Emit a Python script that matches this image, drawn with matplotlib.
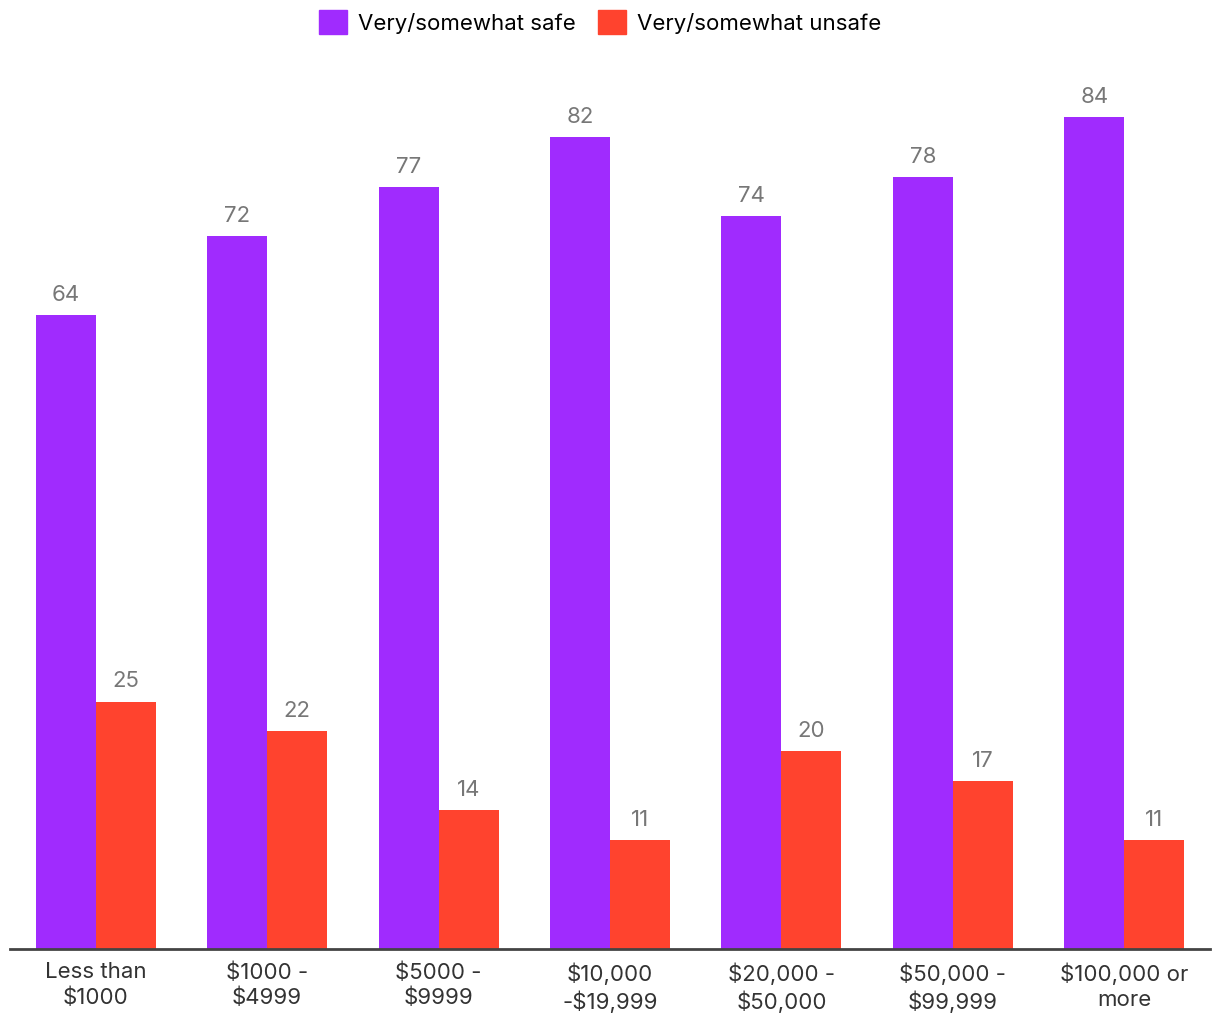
import numpy as np
import matplotlib
matplotlib.use("Agg")
import matplotlib.pyplot as plt
from matplotlib.patches import Patch

categories = ["Less than\n$1000", "$1000 -\n$4999", "$5000 -\n$9999", "$10,000\n-$19,999",
              "$20,000 -\n$50,000", "$50,000 -\n$99,999", "$100,000 or\nmore"]
safe = [64, 72, 77, 82, 74, 78, 84]
unsafe = [25, 22, 14, 11, 20, 17, 11]
series_names = ["Very/somewhat safe", "Very/somewhat unsafe"]

PURPLE = "#A02BFE"
RED = "#FF432E"

plt.rcParams['font.family'] = ['Inter', 'DejaVu Sans']

fig = plt.figure(figsize=(12.2, 10.2), dpi=100)
ax = fig.add_axes([10 / 1220, 70 / 1020, 1200 / 1220, 890 / 1020])

x = np.arange(len(categories))
w = 0.35
b1 = ax.bar(x - w / 2, safe, w, color=PURPLE)
b2 = ax.bar(x + w / 2, unsafe, w, color=RED)

for bars, vals in ((b1, safe), (b2, unsafe)):
    for rect, v in zip(bars, vals):
        ax.annotate(str(v), (rect.get_x() + rect.get_width() / 2, v),
                    xytext=(0, 8), textcoords="offset points",
                    ha="center", va="bottom", fontsize=16, color="#777777")

ax.set_xlim(-0.5, len(categories) - 0.5)
ax.set_ylim(0, 89.9)
ax.set_xticks(x)
ax.set_xticklabels(categories, fontsize=16, color="#333333", linespacing=1.3)
ax.tick_params(axis="x", length=0, pad=9)
ax.set_yticks([])
for s in ("top", "right", "left"):
    ax.spines[s].set_visible(False)
ax.spines["bottom"].set_color("#444444")
ax.spines["bottom"].set_linewidth(2)

handles = [Patch(color=PURPLE), Patch(color=RED)]
fig.legend(handles, series_names, loc="center", bbox_to_anchor=(0.492, 1 - 23 / 1020),
           ncol=2, frameon=False, fontsize=16, handlelength=1.25, handleheight=1.25,
           handletextpad=0.5, columnspacing=1.0)

fig.savefig("out.png", dpi=100)
